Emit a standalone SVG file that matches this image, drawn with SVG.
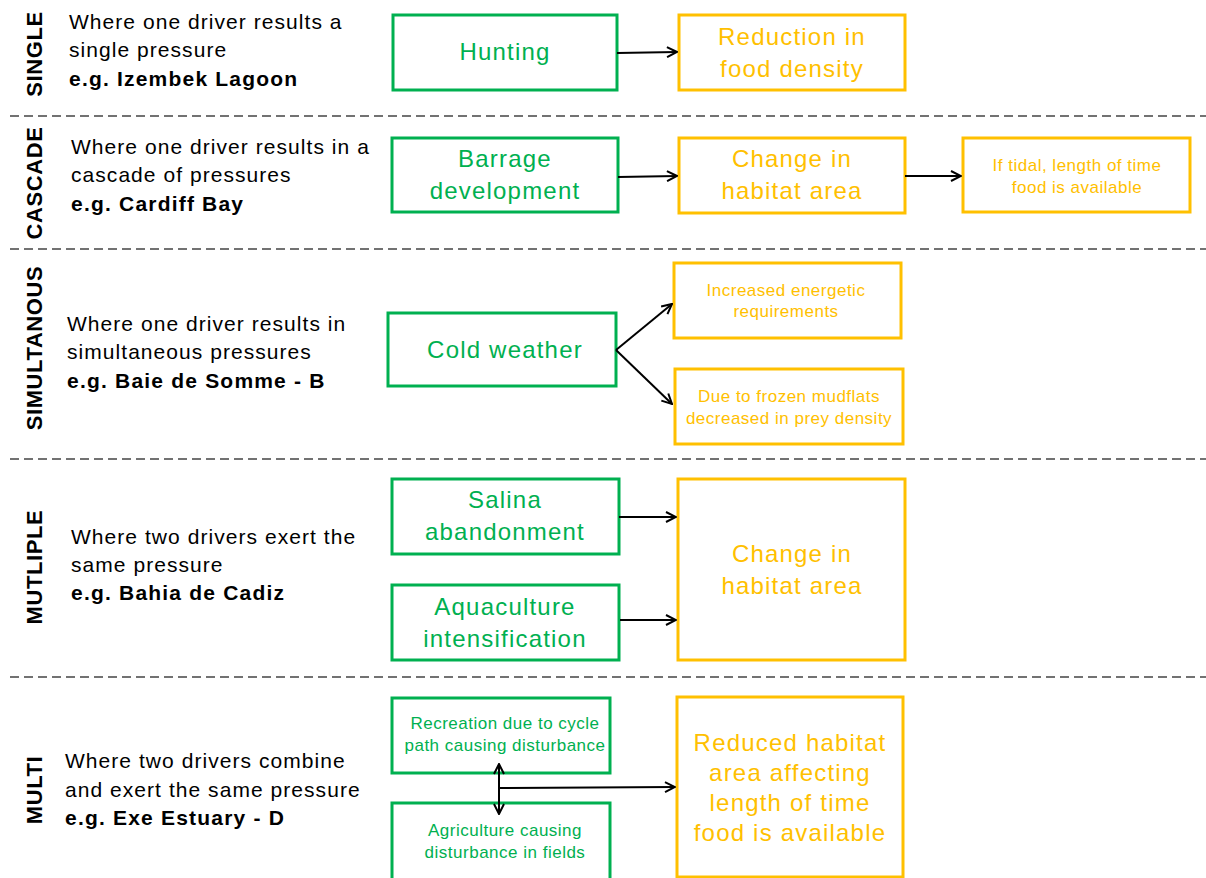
<svg xmlns="http://www.w3.org/2000/svg" width="1206" height="878" viewBox="0 0 1206 878">
<style>
text{font-family:"Liberation Sans",Arial,sans-serif}
.lab{font-size:22px;font-weight:bold;fill:#000;text-anchor:middle;letter-spacing:0.6px}
.desc{font-size:21px;fill:#000;letter-spacing:1.05px}
.b{font-weight:bold;letter-spacing:1.2px}
.g rect{fill:#fff;stroke:#00B050;stroke-width:3}
.y rect{fill:#fff;stroke:#FFC000;stroke-width:3}
.g text{fill:#00B050;text-anchor:middle}
.y text{fill:#FFC000;text-anchor:middle}
.big{font-size:24px;letter-spacing:1.2px}
.sm{font-size:17px;letter-spacing:0.5px}
.sep{stroke:#444;stroke-width:1.5;stroke-dasharray:9 5;fill:none}
.con{stroke:#000;stroke-width:2;fill:none}
</style>
<defs>
<marker id="ah" viewBox="0 0 12 12" refX="11" refY="6" markerWidth="12" markerHeight="12" markerUnits="userSpaceOnUse" orient="auto-start-reverse">
<path d="M1,1 L11,6 L1,11" fill="none" stroke="#000" stroke-width="2"/>
</marker>
</defs>
<rect width="1206" height="878" fill="#fff"/>

<g id="separators">
<line class="sep" x1="10" y1="116" x2="1206" y2="116"/>
<line class="sep" x1="10" y1="249" x2="1206" y2="249"/>
<line class="sep" x1="10" y1="459" x2="1206" y2="459"/>
<line class="sep" x1="10" y1="677" x2="1206" y2="677"/>
</g>

<g id="labels">
<text class="lab" transform="translate(42,54) rotate(-90)">SINGLE</text>
<text class="lab" transform="translate(42,183) rotate(-90)">CASCADE</text>
<text class="lab" transform="translate(42,348) rotate(-90)">SIMULTANOUS</text>
<text class="lab" transform="translate(42,567) rotate(-90)">MUTLIPLE</text>
<text class="lab" transform="translate(42,790) rotate(-90)">MULTI</text>
</g>

<g id="descriptions">
<text class="desc" x="69" y="29">Where one driver results a</text>
<text class="desc" x="69" y="57">single pressure</text>
<text class="desc b" x="69" y="86">e.g. Izembek Lagoon</text>
<text class="desc" x="71" y="154">Where one driver results in a</text>
<text class="desc" x="71" y="182">cascade of pressures</text>
<text class="desc b" x="71" y="211">e.g. Cardiff Bay</text>
<text class="desc" x="67" y="331">Where one driver results in</text>
<text class="desc" x="67" y="359">simultaneous pressures</text>
<text class="desc b" x="67" y="388">e.g. Baie de Somme - B</text>
<text class="desc" x="71" y="544">Where two drivers exert the</text>
<text class="desc" x="71" y="572">same pressure</text>
<text class="desc b" x="71" y="600">e.g. Bahia de Cadiz</text>
<text class="desc" x="65" y="768">Where two drivers combine</text>
<text class="desc" x="65" y="797">and exert the same pressure</text>
<text class="desc b" x="65" y="825">e.g. Exe Estuary - D</text>
</g>

<g id="n-hunting" class="g"><rect x="393" y="15" width="224" height="75"/><text class="big" x="505" y="60">Hunting</text></g>
<g id="n-reduction" class="y"><rect x="679" y="15" width="226" height="75"/><text class="big" x="792" y="45">Reduction in</text><text class="big" x="792" y="77">food density</text></g>

<g id="n-barrage" class="g"><rect x="392" y="138" width="226" height="74"/><text class="big" x="505" y="167">Barrage</text><text class="big" x="505" y="199">development</text></g>
<g id="n-change1" class="y"><rect x="679" y="138" width="226" height="75"/><text class="big" x="792" y="167">Change in</text><text class="big" x="792" y="199">habitat area</text></g>
<g id="n-tidal" class="y"><rect x="963" y="138" width="227" height="74"/><text class="sm" x="1077" y="171">If tidal, length of time</text><text class="sm" x="1077" y="193">food is available</text></g>

<g id="n-cold" class="g"><rect x="388" y="313" width="228" height="73"/><text class="big" x="505" y="358">Cold weather</text></g>
<g id="n-energetic" class="y"><rect x="674" y="263" width="227" height="75"/><text class="sm" x="786" y="296">Increased energetic</text><text class="sm" x="786" y="317">requirements</text></g>
<g id="n-frozen" class="y"><rect x="675" y="369" width="228" height="75"/><text class="sm" x="789" y="402">Due to frozen mudflats</text><text class="sm" x="789" y="424">decreased in prey density</text></g>

<g id="n-salina" class="g"><rect x="392" y="479" width="227" height="75"/><text class="big" x="505" y="508">Salina</text><text class="big" x="505" y="540">abandonment</text></g>
<g id="n-aqua" class="g"><rect x="392" y="585" width="227" height="75"/><text class="big" x="505" y="615">Aquaculture</text><text class="big" x="505" y="647">intensification</text></g>
<g id="n-change2" class="y"><rect x="678" y="479" width="227" height="181"/><text class="big" x="792" y="562">Change in</text><text class="big" x="792" y="594">habitat area</text></g>

<g id="n-recreation" class="g"><rect x="392" y="698" width="218" height="75"/><text class="sm" x="505" y="729">Recreation due to cycle</text><text class="sm" x="505" y="751">path causing disturbance</text></g>
<g id="n-agriculture" class="g"><rect x="392" y="803" width="218" height="80"/><text class="sm" x="505" y="836">Agriculture causing</text><text class="sm" x="505" y="858">disturbance in fields</text></g>
<g id="n-reduced" class="y"><rect x="677" y="697" width="226" height="180"/><text class="big" x="790" y="751">Reduced habitat</text><text class="big" x="790" y="781">area affecting</text><text class="big" x="790" y="811">length of time</text><text class="big" x="790" y="841">food is available</text></g>

<g id="connectors">
<line class="con" x1="617" y1="53" x2="677" y2="52" marker-end="url(#ah)"/>
<line class="con" x1="618" y1="177" x2="677" y2="176" marker-end="url(#ah)"/>
<line class="con" x1="905" y1="176" x2="961" y2="176" marker-end="url(#ah)"/>
<line class="con" x1="616" y1="350" x2="672" y2="304" marker-end="url(#ah)"/>
<line class="con" x1="616" y1="350" x2="672" y2="404" marker-end="url(#ah)"/>
<line class="con" x1="619" y1="517" x2="676" y2="517" marker-end="url(#ah)"/>
<line class="con" x1="620" y1="620" x2="676" y2="620" marker-end="url(#ah)"/>
<line class="con" x1="499" y1="764" x2="499" y2="814" marker-start="url(#ah)" marker-end="url(#ah)"/>
<line class="con" x1="499" y1="788" x2="675" y2="787" marker-end="url(#ah)"/>
</g>
</svg>
